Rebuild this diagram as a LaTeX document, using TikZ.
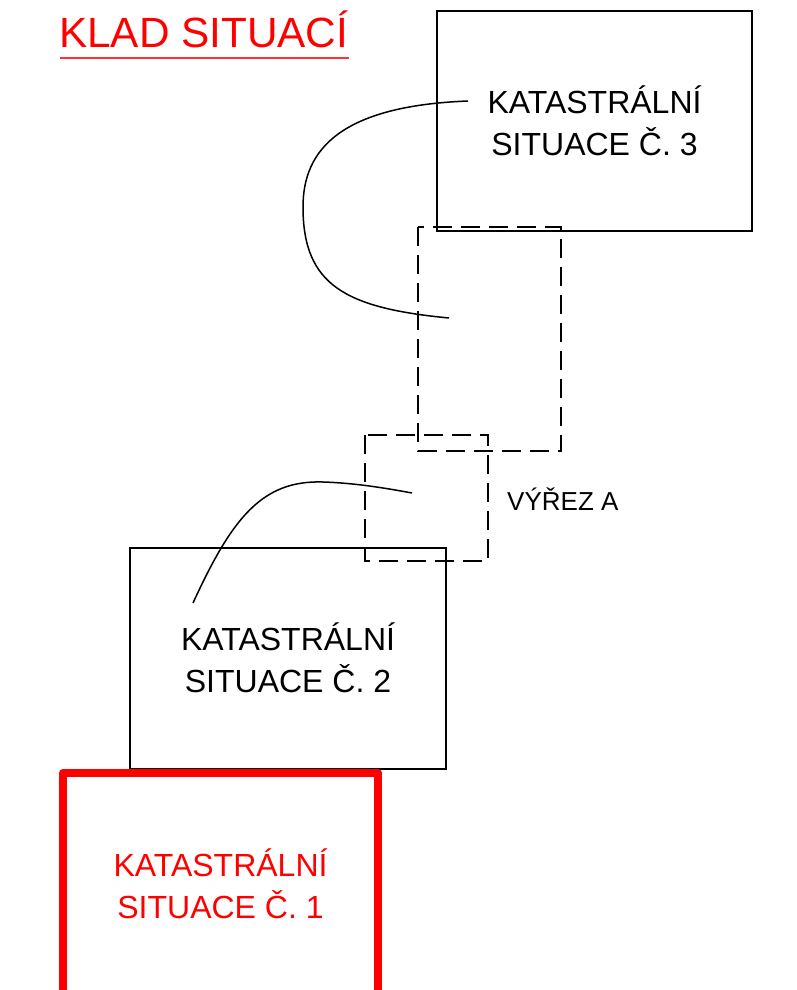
\documentclass[tikz,border=0pt]{standalone}
\usepackage{fontspec}
\setmainfont{Liberation Sans}
\begin{document}
\begin{tikzpicture}[x=1pt,y=-1pt,
  boxline/.style={draw=black,line width=1.6pt},
  dashbox/.style={draw=black,line width=1.8pt,dash pattern=on 19pt off 9pt},
  curveline/.style={draw=black,line width=1.5pt},
  boxtext/.style={align=center,inner sep=0pt,font=\fontsize{32}{42}\selectfont}]
\useasboundingbox (0,0) rectangle (796,990);
% title
\node[anchor=base west,inner sep=0pt,text=red,font=\fontsize{42.3}{48}\selectfont] (title) at (59,48) {KLAD SITUACÍ};
\draw[red!80,line width=1.2pt] (60,58) coordinate (ul1) -- (349,58) coordinate (ul2);
% box 3
\draw[boxline] (437,11) rectangle (752,231);
\node[boxtext] (t3) at (594.5,120.5) {KATASTRÁLNÍ\\SITUACE Č. 3};
% dashed boxes
\draw[dashbox] (418,227) rectangle (561,451);
\draw[dashbox] (365,435) rectangle (488,561);
% box 2
\draw[boxline] (130,548) rectangle (446,769);
\node[boxtext] (t2) at (288,657.5) {KATASTRÁLNÍ\\SITUACE Č. 2};
% box 1 (red, open at bottom)
\draw[red,line width=8pt,line join=round] (63,1000) -- (63,773) -- (378,773) -- (378,1000);
\node[boxtext,text=red] (t1) at (220.5,884) {KATASTRÁLNÍ\\SITUACE Č. 1};
% label
\node[anchor=base west,inner sep=0pt,font=\fontsize{26}{30}\selectfont] (lab) at (507,510) {VÝŘEZ A};
% curves
\coordinate (c1a) at (468,101);
\coordinate (c1m) at (303,207);
\coordinate (c1b) at (449,318);
\draw[curveline] (c1a) .. controls (340,106) and (303,150) .. (c1m)
  .. controls (303,285) and (345,308) .. (c1b);
\coordinate (c2a) at (193,603);
\coordinate (c2m) at (323,482);
\coordinate (c2b) at (412,493);
\draw[curveline] (c2a) .. controls (232,518) and (262,480) .. (c2m)
  .. controls (355,483) and (385,488) .. (c2b);
\end{tikzpicture}
\end{document}
